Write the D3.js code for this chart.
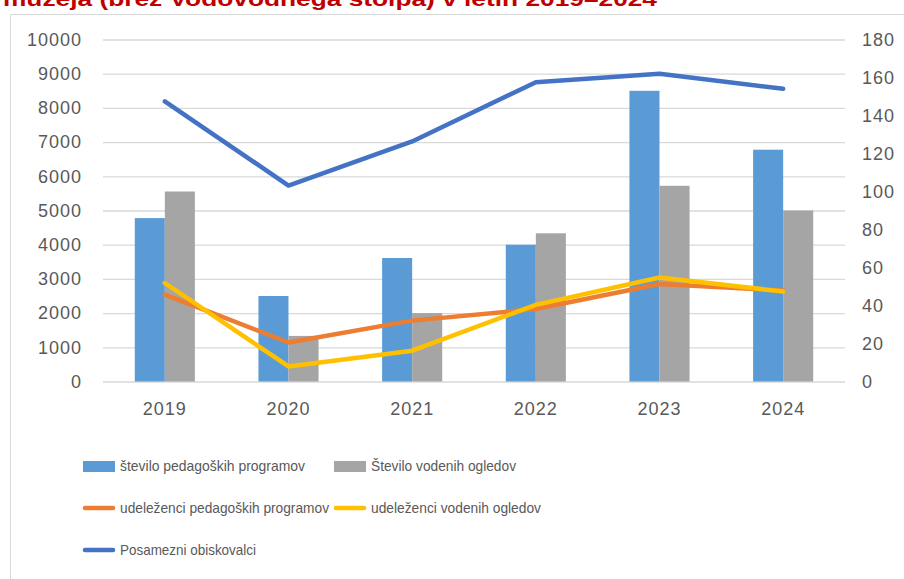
<!DOCTYPE html>
<html>
<head>
<meta charset="utf-8">
<script src="https://cdn.jsdelivr.net/npm/d3@7"></script>
<style>
	body { margin: 0; background: #fff; }
	svg { display: block; font-family: "Liberation Sans", Arial, sans-serif; }
</style>
</head>
<body>
<svg id="chart" width="904" height="579"></svg>
<script>
// values
const years = ["2019", "2020", "2021", "2022", "2023", "2024"];
const pedagoskiProgrami = [86, 45, 65, 72, 153, 122];      // right axis
const vodeniOgledi = [100, 24, 36, 78, 103, 90];           // right axis
const udelezenciPed = [2540, 1140, 1780, 2120, 2850, 2660]; // left axis
const udelezenciVod = [2880, 440, 900, 2240, 3040, 2630];   // left axis
const obiskovalci = [8190, 5730, 7020, 8750, 9000, 8560];   // left axis
const leftTicks = [0, 1000, 2000, 3000, 4000, 5000, 6000, 7000, 8000, 9000, 10000];
const rightTicks = [0, 20, 40, 60, 80, 100, 120, 140, 160, 180];
const titleText = "muzeja (brez Vodovodnega stolpa) v letih 2019–2024";

(function() {
	const svg = d3.select("#chart");
	const plot = { left: 103, right: 845, top: 39.5, bottom: 381.5 };
	const textColor = "#595959";

	// title, cut off by the top edge like in the source
	svg.append("text")
		.attr("x", 3)
		.attr("y", 6)
		.attr("textLength", 654)
		.attr("lengthAdjust", "spacingAndGlyphs")
		.style("font-size", "21px")
		.style("font-weight", "bold")
		.style("fill", "#C00000")
		.text(titleText);

	// chart frame (only top and left edges are visible)
	svg.append("path")
		.attr("d", "M10.5,579 V14.5 H904")
		.attr("fill", "none")
		.attr("stroke", "#D9D9D9")
		.attr("stroke-width", 1);

	let x = d3.scaleBand()
		.domain(years)
		.range([plot.left, plot.right])
		.paddingInner(0.514)
		.paddingOuter(0.257);

	let xSub = d3.scaleBand()
		.domain([0, 1])
		.range([0, x.bandwidth()]);

	let yLeft = d3.scaleLinear().domain([0, 10000]).range([plot.bottom, plot.top]);
	let yRight = d3.scaleLinear().domain([0, 180]).range([plot.bottom, plot.top]);

	function styleLabels(g) {
		g.select(".domain").remove();
		g.selectAll("text")
			.style("font-size", "18px")
			.style("letter-spacing", "1px")
			.attr("fill", textColor)
			.attr("font-family", null);
	}

	// gridlines
	svg.append("g")
		.attr("transform", "translate(" + plot.left + ",0)")
		.call(d3.axisLeft(yLeft).tickValues(leftTicks).tickSize(-(plot.right - plot.left)).tickFormat(""))
		.call(g => g.select(".domain").remove())
		.call(g => g.selectAll("line").attr("stroke", "#D9D9D9").attr("stroke-width", 1.3));

	// left axis labels
	svg.append("g")
		.attr("transform", "translate(" + plot.left + ",0)")
		.call(d3.axisLeft(yLeft).tickValues(leftTicks).tickSize(0).tickPadding(21).tickFormat(d3.format("d")))
		.call(styleLabels);

	// right axis labels
	svg.append("g")
		.attr("transform", "translate(" + plot.right + ",0)")
		.call(d3.axisRight(yRight).tickValues(rightTicks).tickSize(0).tickPadding(17))
		.call(styleLabels);

	// bottom axis labels
	svg.append("g")
		.attr("transform", "translate(0," + plot.bottom + ")")
		.call(d3.axisBottom(x).tickSize(0).tickPadding(21))
		.call(styleLabels);

	// bars
	const barSeries = [
		{ values: pedagoskiProgrami, color: "#5B9BD5" },
		{ values: vodeniOgledi, color: "#A5A5A5" }
	];
	barSeries.forEach(function(s, si) {
		svg.append("g")
			.selectAll("rect")
			.data(s.values)
			.enter()
			.append("rect")
			.attr("x", (d, i) => x(years[i]) + xSub(si))
			.attr("y", d => yRight(d))
			.attr("width", xSub.bandwidth())
			.attr("height", d => yRight(0) - yRight(d))
			.attr("fill", s.color);
	});

	// lines
	const lineSeries = [
		{ values: udelezenciPed, color: "#ED7D31" },
		{ values: udelezenciVod, color: "#FFC000" },
		{ values: obiskovalci, color: "#4472C4" }
	];
	let line = d3.line()
		.x((d, i) => x(years[i]) + x.bandwidth() / 2)
		.y(d => yLeft(d));
	lineSeries.forEach(function(s) {
		svg.append("path")
			.datum(s.values)
			.attr("d", line)
			.attr("fill", "none")
			.attr("stroke", s.color)
			.attr("stroke-width", 4.5)
			.attr("stroke-linejoin", "round")
			.attr("stroke-linecap", "round");
	});

	// legend
	const legendItems = [
		{ label: "število pedagoških programov", color: "#5B9BD5", type: "bar", x: 83, y: 466, w: 185 },
		{ label: "Število vodenih ogledov", color: "#A5A5A5", type: "bar", x: 334, y: 466, w: 145 },
		{ label: "udeleženci pedagoških programov", color: "#ED7D31", type: "line", x: 83, y: 508, w: 209 },
		{ label: "udeleženci vodenih ogledov", color: "#FFC000", type: "line", x: 334, y: 508, w: 170 },
		{ label: "Posamezni obiskovalci", color: "#4472C4", type: "line", x: 83, y: 550, w: 136 }
	];
	let legend = svg.append("g");
	legendItems.forEach(function(item) {
		if (item.type == "bar") {
			legend.append("rect")
				.attr("x", item.x)
				.attr("y", item.y - 5)
				.attr("width", 32)
				.attr("height", 11)
				.attr("fill", item.color);
		} else {
			legend.append("line")
				.attr("x1", item.x + 2)
				.attr("x2", item.x + 30)
				.attr("y1", item.y)
				.attr("y2", item.y)
				.attr("stroke", item.color)
				.attr("stroke-width", 4.5)
				.attr("stroke-linecap", "round");
		}
		legend.append("text")
			.attr("x", item.x + 37)
			.attr("y", item.y)
			.attr("dy", "0.35em")
			.attr("textLength", item.w)
			.attr("lengthAdjust", "spacingAndGlyphs")
			.style("font-size", "15px")
			.style("fill", textColor)
			.text(item.label);
	});
})();
</script>
</body>
</html>
